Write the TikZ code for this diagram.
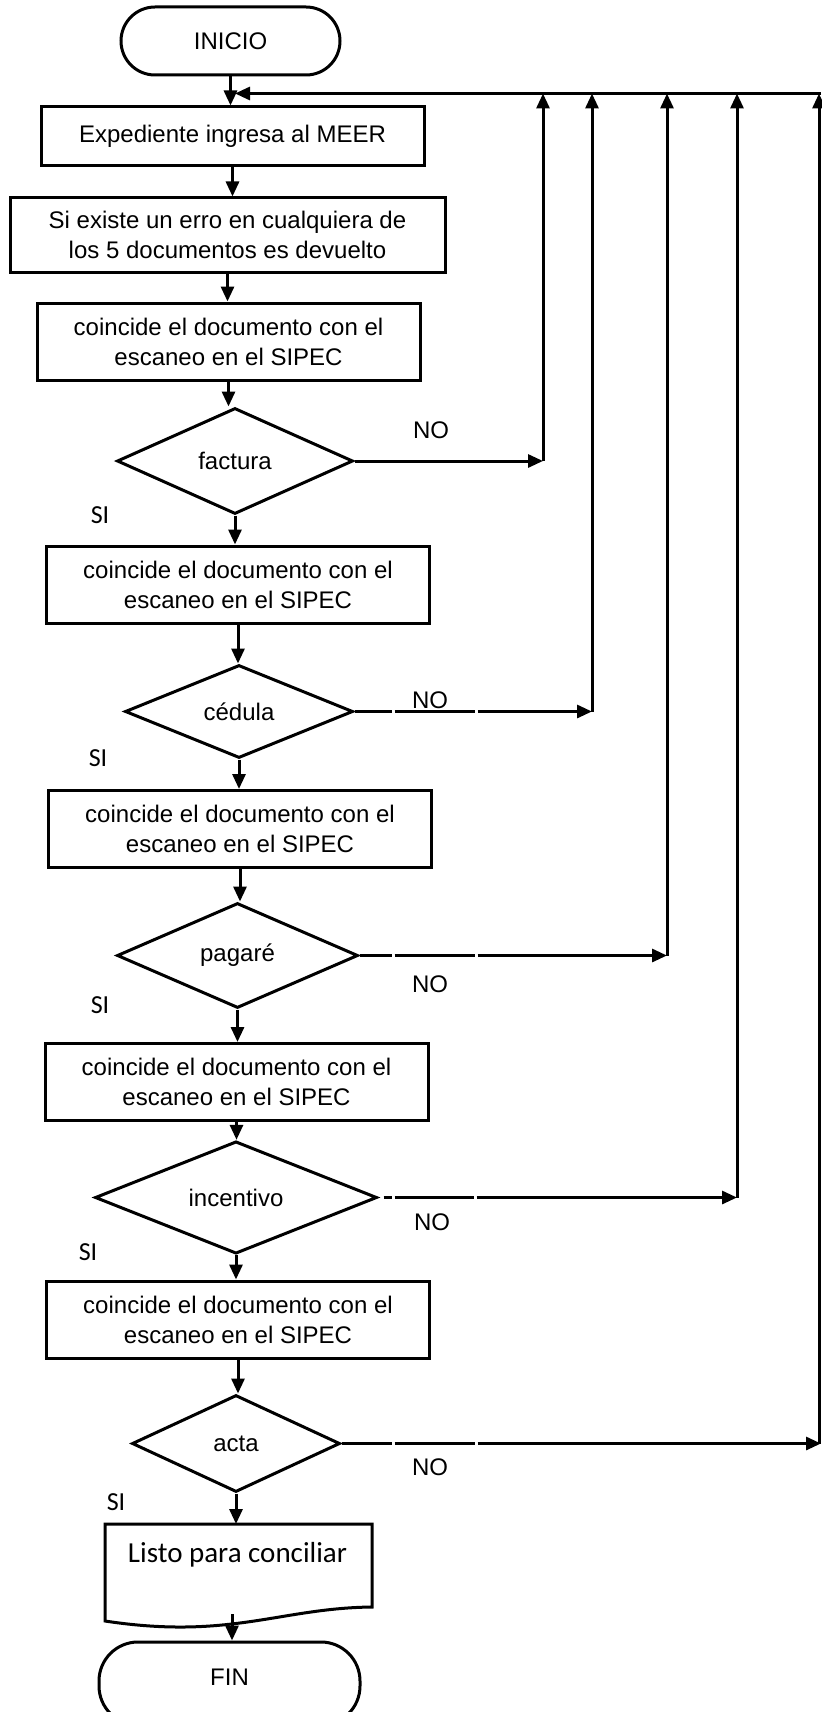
\documentclass[tikz,border=0pt]{standalone}
\usepackage{fontspec}
\setmainfont{Liberation Sans}
\newfontfamily\calibri{Carlito}
\usetikzlibrary{shapes.geometric,arrows.meta}

\begin{document}
\begin{tikzpicture}[x=0.5pt,y=-0.5pt,line width=1.5pt,
  flow/.style={-{Triangle[length=7.5pt,width=6.5pt]}},
  proceso/.style={draw,rectangle,align=center,minimum width=191.5pt,
    minimum height=38.5pt,inner sep=2pt,font=\fontsize{12}{15}\selectfont},
  decision/.style 2 args={draw,diamond,minimum width=#1,minimum height=#2,
    inner sep=0pt,font=\fontsize{12}{15}\selectfont},
  terminal/.style={draw,rectangle,rounded corners=17pt,minimum width=#1,
    minimum height=34pt,font=\fontsize{12}{15}\selectfont},
  rotulo/.style={font=\fontsize{12}{15}\selectfont},
  rotulosi/.style={font=\calibri\fontsize{13}{15}\selectfont}]
  \useasboundingbox (0,0) rectangle (821,1712);

  % cuerpo principal
  \node[terminal=109.5pt] (inicio) at (230.5,41) {INICIO};
  \node[proceso,minimum height=29.5pt] (exped) at (232.5,136.5) {Expediente ingresa al MEER};
  \node[proceso,minimum width=217.5pt,minimum height=37pt] (errs) at (227.5,235)
    {Si existe un erro en cualquiera de\\los 5 documentos es devuelto};
  \node[proceso] (scan1) at (228.5,341.5) {coincide el documento con el\\escaneo en el SIPEC};
  \node[decision={118pt}{53pt}] (factura) at (235,461) {factura};
  \node[proceso] (scan2) at (238,584.5) {coincide el documento con el\\escaneo en el SIPEC};
  \node[decision={114pt}{46.5pt}] (cedula) at (239,711.5) {cédula};
  \node[proceso] (scan3) at (240,829) {coincide el documento con el\\escaneo en el SIPEC};
  \node[decision={120.5pt}{52.5pt}] (pagare) at (237.5,955.5) {pagaré};
  \node[proceso] (scan4) at (236.5,1082) {coincide el documento con el\\escaneo en el SIPEC};
  \node[decision={141pt}{49.5pt}] (incentivo) at (236,1197.5) {incentivo};
  \node[proceso] (scan5) at (238,1319.5) {coincide el documento con el\\escaneo en el SIPEC};
  \node[decision={104pt}{48.5pt}] (acta) at (236,1443.5) {acta};
  \node[font=\calibri\fontsize{14.5}{17}\selectfont] (listo) at (237.5,1555) {Listo para conciliar};
  \node[terminal=130.5pt,rounded corners=19.5pt,minimum height=41.5pt,
    text height=8.6pt,text depth=6.5pt] (fin) at (229.5,1683.5) {FIN};

  % documento
  \draw (105,1524) -- (372,1524) -- (372,1607)
    .. controls (280,1608) and (230,1640) .. (105,1621) -- cycle;
  \coordinate (listoN) at (238,1524);
  \coordinate (listoS) at (232,1614);

  % retorno
  \coordinate (ret) at (235,93.5);
  \coordinate (borde) at (821,93.5);
  \coordinate (r1) at (543,93.5);
  \coordinate (r2) at (592,93.5);
  \coordinate (r3) at (667,93.5);
  \coordinate (r4) at (737,93.5);
  \coordinate (r5) at (819,93.5);

  \draw[flow] (inicio.south) -- (inicio.south |- exped.north);
  \draw[flow] (borde) -- (ret);
  \draw[flow] (exped.south) -- (exped.south |- errs.north);
  \draw[flow] (errs.south) -- (errs.south |- scan1.north);
  \draw[flow] (scan1.south) -- (scan1.south |- factura.north);
  \draw[flow] (factura.south) -- (factura.south |- scan2.north);
  \draw[flow] (scan2.south) -- (scan2.south |- cedula.north);
  \draw[flow] (cedula.south) -- (cedula.south |- scan3.north);
  \draw[flow] (scan3.south) -- (scan3.south |- pagare.north);
  \draw[flow] (pagare.south) -- (pagare.south |- scan4.north);
  \draw[flow] (scan4.south) -- (scan4.south |- incentivo.north);
  \draw[flow] (incentivo.south) -- (incentivo.south |- scan5.north);
  \draw[flow] (scan5.south) -- (scan5.south |- acta.north);
  \draw[flow] (acta.south) -- (acta.south |- listoN);
  \draw[flow] (listoS) -- (listoS |- fin.north);

  % ramas NO
  \draw[flow] (factura.east) -- (factura.east -| r1);
  \draw[flow] (factura.east -| r1) -- (r1);
  \draw[flow,dash pattern=on 18.5pt off 1.5pt on 40pt off 1.5pt on 300pt]
    (cedula.east) -- (cedula.east -| r2);
  \draw[flow] (cedula.east -| r2) -- (r2);
  \draw[flow,dash pattern=on 16pt off 1.5pt on 40pt off 1.5pt on 300pt]
    (pagare.east) -- (pagare.east -| r3);
  \draw[flow] (pagare.east -| r3) -- (r3);
  \draw[flow,dash pattern=on 0pt off 2.5pt on 4pt off 1.5pt on 39.5pt off 1.5pt on 300pt]
    (incentivo.east) -- (incentivo.east -| r4);
  \draw[flow] (incentivo.east -| r4) -- (r4);
  \draw[flow,dash pattern=on 25pt off 1.5pt on 40pt off 1.5pt on 300pt]
    (acta.east) -- (acta.east -| borde);
  \draw[flow] (acta.east -| r5) -- (r5);

  % rotulos
  \node[rotulo] (no1) at (431,430) {NO};
  \node[rotulo] (no2) at (430,700) {NO};
  \node[rotulo] (no3) at (430,984) {NO};
  \node[rotulo] (no4) at (432,1222) {NO};
  \node[rotulo] (no5) at (430,1467) {NO};
  \node[rotulosi] (si1) at (100,515) {SI};
  \node[rotulosi] (si2) at (98,758) {SI};
  \node[rotulosi] (si3) at (100,1005) {SI};
  \node[rotulosi] (si4) at (88,1252) {SI};
  \node[rotulosi] (si5) at (116,1502) {SI};
\end{tikzpicture}
\end{document}
